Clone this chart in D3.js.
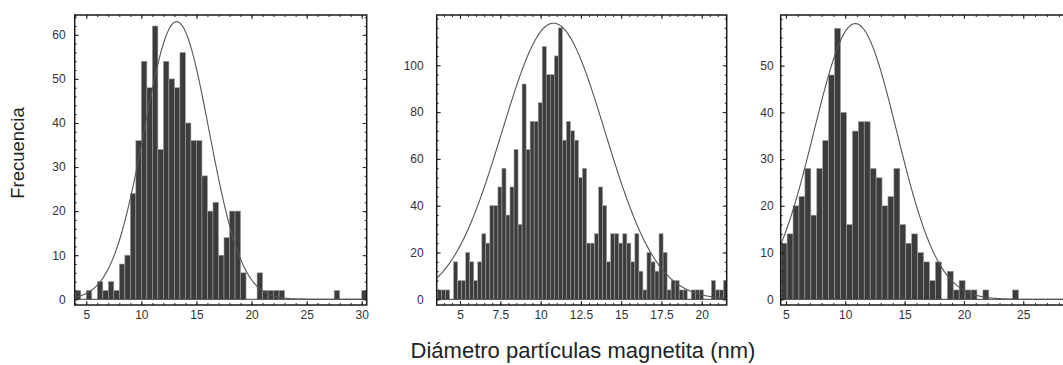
<!DOCTYPE html>
<html><head><meta charset="utf-8">
<script src="https://cdn.jsdelivr.net/npm/d3@7"></script>
<style>
body{margin:0;background:#fff}
svg{display:block}
text{font-family:"Liberation Sans",Arial,sans-serif}
</style>
</head><body>
<svg id="chart" width="1063" height="365"></svg>
<script>
// ---------- data ----------
// histogram counts per bin, left to right
const countsA = [2,0,2,0,4,2,4,2,8,10,24,36,54,48,62,34,54,50,48,56,40,36,36,28,20,22,10,14,20,20,6,0,0,6,2,2,2,2,0,0,0,0,0,0,0,0,0,2,0,0,0,0,2];
const countsB = [4,4,4,0,16,8,8,20,16,8,16,28,24,40,40,48,56,36,48,64,32,92,64,76,76,84,108,96,96,104,116,
                 68,76,72,68,52,56,24,24,28,48,40,16,28,28,24,28,24,16,28,12,4,20,16,12,28,20,4,8,8,4,4,0,4,4,4,0,0,8,4,4,8];
const countsC = [12,14,20,22,28,18,28,34,48,58,40,16,36,38,38,28,26,20,22,28,16,12,14,10,8,4,8,0,6,2,4,2,2,0,2,0,0,0,0,2];
// first bin edge and bin width (nm)
const binStarts = [4.0, 3.6, 4.6];
const binWidths = [0.5, 0.25, 0.5];
// fitted normal curves: peak height, mean, standard deviation
const fitPeaks  = [63, 118, 59];
const fitMeans  = [13.2, 10.8, 10.85];
const fitSigmas = [2.95, 3.2, 3.5];
// tick labels
const xTicksA = [5,10,15,20,25,30];
const xTicksB = [5,7.5,10,12.5,15,17.5,20];
const xTicksC = [5,10,15,20,25];
const yTicksA = [0,10,20,30,40,50,60];
const yTicksB = [0,20,40,60,80,100];
const yTicksC = [0,10,20,30,40,50];
const yTitle = "Frecuencia";
const xTitle = "Diámetro partículas magnetita (nm)";

// ---------- layout ----------
const panels = [
  {counts:countsA, xt:xTicksA, yt:yTicksA, xMinor:1, yMinor:2, left:74.7, right:366.7, xDom:[3.95,30.45], yDom:[-1.3,64.5], lblGap:9},
  {counts:countsB, xt:xTicksB, yt:yTicksB, xMinor:0.5, yMinor:4, left:436.7, right:726.7, xDom:[3.55,21.55], yDom:[-2.44,121.5], lblGap:13},
  {counts:countsC, xt:xTicksC, yt:yTicksC, xMinor:1, yMinor:2, left:780.7, right:1070.7, xDom:[4.56,29.0], yDom:[-1.22,60.84], lblGap:7}
];
const plotTop = 15, plotBottom = 305;
const svg = d3.select("#chart");

panels.forEach((p, i) => {
  const x = d3.scaleLinear().domain(p.xDom).range([p.left, p.right]);
  const y = d3.scaleLinear().domain(p.yDom).range([plotBottom, plotTop]);
  const g = svg.append("g");
  const clipId = "clip" + i;
  svg.append("clipPath").attr("id", clipId).append("rect")
    .attr("x", p.left).attr("y", plotTop).attr("width", p.right - p.left).attr("height", plotBottom - plotTop);
  const plot = g.append("g").attr("clip-path", `url(#${clipId})`);

  const bins = p.counts.map((c, k) => ({x0: binStarts[i] + k * binWidths[i], x1: binStarts[i] + (k + 1) * binWidths[i], c}));
  plot.selectAll("rect.bar").data(bins.filter(b => b.c > 0)).join("rect")
    .attr("class", "bar")
    .attr("x", b => x(b.x0)).attr("width", b => x(b.x1) - x(b.x0))
    .attr("y", b => y(b.c)).attr("height", b => y(0) - y(b.c))
    .attr("fill", "#3c3c3c").attr("stroke", "#a0a0a0").attr("stroke-width", 0.6);

  // zero line
  plot.append("line").attr("x1", p.left).attr("x2", p.right).attr("y1", y(0)).attr("y2", y(0))
    .attr("stroke", "#444").attr("stroke-width", 1);

  // fitted curve
  const xs = d3.range(p.xDom[0], p.xDom[1] + 0.05, 0.05);
  const line = d3.line().x(d => x(d)).y(d => y(fitPeaks[i] * Math.exp(-0.5 * Math.pow((d - fitMeans[i]) / fitSigmas[i], 2))));
  plot.append("path").datum(xs).attr("d", line).attr("fill", "none").attr("stroke", "#555").attr("stroke-width", 1.1);

  // axes (ticks pointing inward)
  const minorX = d3.range(Math.ceil(p.xDom[0] / p.xMinor) * p.xMinor, p.xDom[1], p.xMinor);
  const minorY = d3.range(0, p.yDom[1], p.yMinor);
  const fmt = d => String(d);
  const styleAxis = sel => {
    sel.select(".domain").remove();
    sel.selectAll("line").attr("stroke", "#222").attr("stroke-width", 1);
    sel.selectAll("text").attr("fill", "#333").style("font-size", "12px");
  };
  g.append("g").attr("transform", `translate(0,${plotBottom})`).call(d3.axisBottom(x).tickValues(minorX).tickSize(-2).tickFormat("")).call(styleAxis);
  g.append("g").attr("transform", `translate(0,${plotBottom})`).call(d3.axisBottom(x).tickValues(p.xt).tickSize(-4).tickPadding(5).tickFormat(fmt)).call(styleAxis);
  g.append("g").attr("transform", `translate(0,${plotTop})`).call(d3.axisTop(x).tickValues(minorX).tickSize(-2).tickFormat("")).call(styleAxis);
  g.append("g").attr("transform", `translate(0,${plotTop})`).call(d3.axisTop(x).tickValues(p.xt).tickSize(-4).tickFormat("")).call(styleAxis);
  g.append("g").attr("transform", `translate(${p.left},0)`).call(d3.axisLeft(y).tickValues(minorY).tickSize(-2).tickFormat("")).call(styleAxis);
  g.append("g").attr("transform", `translate(${p.left},0)`).call(d3.axisLeft(y).tickValues(p.yt).tickSize(-4).tickPadding(p.lblGap).tickFormat(fmt)).call(styleAxis);
  g.append("g").attr("transform", `translate(${p.right},0)`).call(d3.axisRight(y).tickValues(minorY).tickSize(-2).tickFormat("")).call(styleAxis);
  g.append("g").attr("transform", `translate(${p.right},0)`).call(d3.axisRight(y).tickValues(p.yt).tickSize(-4).tickFormat("")).call(styleAxis);

  // frame
  g.append("rect").attr("x", p.left).attr("y", plotTop).attr("width", p.right - p.left).attr("height", plotBottom - plotTop)
    .attr("fill", "none").attr("stroke", "#1a1a1a").attr("stroke-width", 1.5);
});

svg.append("text").attr("transform", "translate(24,153) rotate(-90)").attr("text-anchor", "middle")
  .attr("fill", "#222").style("font-size", "18.5px").text(yTitle);
svg.append("text").attr("x", 583).attr("y", 358).attr("text-anchor", "middle")
  .attr("fill", "#222").style("font-size", "22px").text(xTitle);
</script>
</body></html>
